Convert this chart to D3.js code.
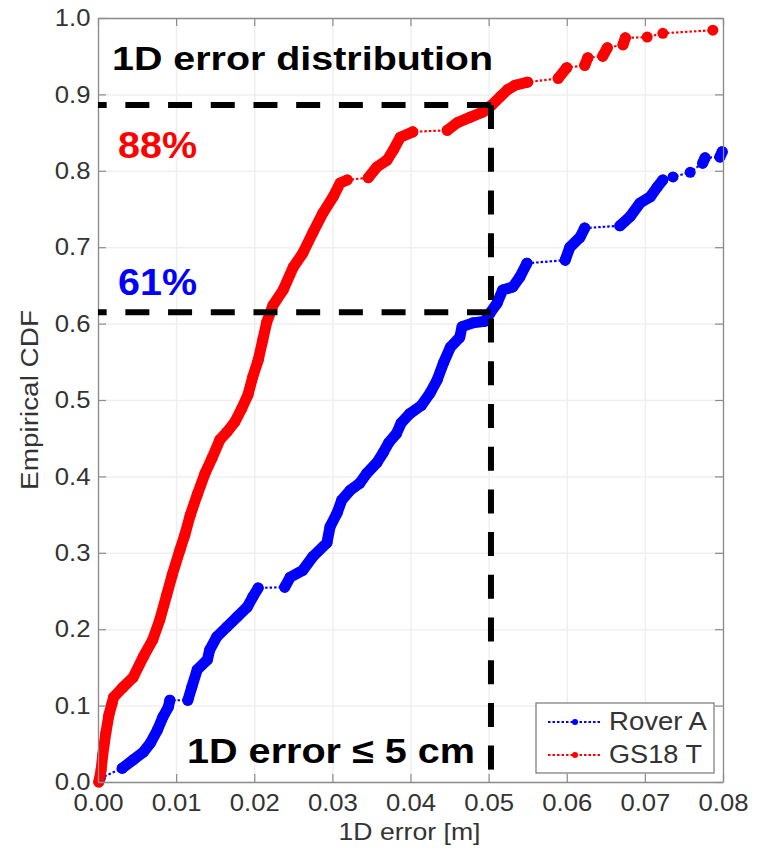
<!DOCTYPE html>
<html>
<head>
<meta charset="utf-8">
<script src="https://cdn.jsdelivr.net/npm/d3@7"></script>
<style>
  body { margin: 0; background: #fff; }
  svg { display: block; font-family: "Liberation Sans", Arial, sans-serif; }
</style>
</head>
<body>
<div id="chart"></div>
<script>
// tick values
const xTicks = [0, 0.01, 0.02, 0.03, 0.04, 0.05, 0.06, 0.07, 0.08];
const yTicks = [0, 0.1, 0.2, 0.3, 0.4, 0.5, 0.6, 0.7, 0.8, 0.9, 1.0];

const seriesNames = ["Rover A", "GS18 T"];
const seriesColors = ["#0000ff", "#ff0000"];

// empirical CDF, split where the markers are apart
// (between runs only the dotted line shows)
const roverRuns = [
  [[0.0003, 0.005]],
  [[0.0031, 0.018], [0.0045, 0.029], [0.0058, 0.039], [0.0067, 0.051], [0.0076, 0.068],
   [0.0083, 0.085], [0.0090, 0.098], [0.0092, 0.107]],
  [[0.0115, 0.107], [0.0120, 0.124], [0.0127, 0.147], [0.0140, 0.160], [0.0143, 0.173],
   [0.0152, 0.190], [0.0165, 0.203], [0.0178, 0.216], [0.0191, 0.229], [0.0198, 0.242],
   [0.0205, 0.254]],
  [[0.0239, 0.255], [0.0246, 0.268], [0.0262, 0.277], [0.0275, 0.295], [0.0293, 0.313],
   [0.0297, 0.334], [0.0306, 0.352], [0.0312, 0.369], [0.0323, 0.382], [0.0335, 0.391],
   [0.0344, 0.404], [0.0357, 0.418], [0.0365, 0.431], [0.0372, 0.444], [0.0382, 0.456],
   [0.0388, 0.470], [0.0399, 0.482], [0.0414, 0.493], [0.0425, 0.509], [0.0434, 0.526],
   [0.0442, 0.548], [0.0451, 0.569], [0.0463, 0.582], [0.0466, 0.596], [0.0480, 0.601],
   [0.0495, 0.603], [0.0502, 0.614], [0.0511, 0.627], [0.0518, 0.644], [0.0531, 0.648],
   [0.0540, 0.661], [0.0549, 0.679]],
  [[0.0598, 0.683], [0.0604, 0.700], [0.0617, 0.713], [0.0623, 0.725]],
  [[0.0668, 0.728], [0.0681, 0.740], [0.0694, 0.758], [0.0707, 0.766], [0.0716, 0.779],
   [0.0723, 0.788]],
  [[0.0736, 0.792]],
  [[0.0758, 0.798]],
  [[0.0774, 0.810], [0.0777, 0.817]],
  [[0.0796, 0.818], [0.0799, 0.825]]
];

const gs18Runs = [
  [[0.0001, 0.000], [0.0004, 0.016], [0.0006, 0.035], [0.0010, 0.064], [0.0014, 0.088],
   [0.0018, 0.103], [0.0020, 0.111], [0.0032, 0.124], [0.0045, 0.137], [0.0058, 0.164],
   [0.0070, 0.186], [0.0079, 0.212], [0.0088, 0.245], [0.0095, 0.271], [0.0105, 0.304],
   [0.0111, 0.323], [0.0118, 0.349], [0.0127, 0.376], [0.0137, 0.404], [0.0146, 0.424],
   [0.0156, 0.448], [0.0165, 0.458], [0.0175, 0.471], [0.0184, 0.489], [0.0192, 0.507],
   [0.0198, 0.530], [0.0205, 0.552], [0.0211, 0.579], [0.0216, 0.602], [0.0224, 0.624],
   [0.0237, 0.644], [0.0250, 0.674], [0.0262, 0.692], [0.0275, 0.719], [0.0288, 0.745],
   [0.0301, 0.766], [0.0310, 0.784], [0.0319, 0.788]],
  [[0.0346, 0.791], [0.0357, 0.805], [0.0370, 0.814], [0.0378, 0.827], [0.0387, 0.844],
   [0.0403, 0.851]],
  [[0.0447, 0.853], [0.0460, 0.863], [0.0476, 0.870], [0.0493, 0.877], [0.0504, 0.886],
   [0.0515, 0.897], [0.0524, 0.906], [0.0534, 0.912], [0.0550, 0.916]],
  [[0.0589, 0.921], [0.0600, 0.935]],
  [[0.0623, 0.938], [0.0627, 0.948]],
  [[0.0646, 0.950], [0.0652, 0.961]],
  [[0.0672, 0.965], [0.0675, 0.974]],
  [[0.0703, 0.975]],
  [[0.0723, 0.980]],
  [[0.0787, 0.984]]
];

// annotation: 5 cm threshold and the two levels it cuts
const markX = 0.0503;
const markLevels = [0.886, 0.615];
const levelLabels = ["88%", "61%"];
const titleText = "1D error distribution";
const thresholdText = "1D error \u2264 5 cm";

const width = 761, height = 849;
const margin = { top: 18, right: 38, bottom: 67, left: 98 };

const x = d3.scaleLinear().domain([0, 0.08]).range([margin.left, width - margin.right]);
const y = d3.scaleLinear().domain([0, 1]).range([height - margin.bottom, margin.top]);

const svg = d3.select("#chart").append("svg")
    .attr("width", width)
    .attr("height", height)
    .attr("viewBox", [0, 0, width, height]);

const x0 = x.range()[0], x1 = x.range()[1];
const yb = y.range()[0], yt = y.range()[1];

// grid
svg.append("g")
    .attr("transform", `translate(0,${yb})`)
    .call(d3.axisBottom(x).tickValues(xTicks).tickSize(-(yb - yt)).tickFormat(""))
    .call(g => g.select(".domain").remove())
    .call(g => g.selectAll("line").attr("stroke", "#efefef").attr("stroke-width", 1.5));
svg.append("g")
    .attr("transform", `translate(${x0},0)`)
    .call(d3.axisLeft(y).tickValues(yTicks).tickSize(-(x1 - x0)).tickFormat(""))
    .call(g => g.select(".domain").remove())
    .call(g => g.selectAll("line").attr("stroke", "#efefef").attr("stroke-width", 1.5));

// series
const line = d3.line().x(d => x(d[0])).y(d => y(d[1]));

function drawSeries(runs, color) {
    const g = svg.append("g");
    // dotted line through every point
    g.append("path")
        .attr("d", line(runs.flat()))
        .attr("fill", "none")
        .attr("stroke", color)
        .attr("stroke-width", 2.2)
        .attr("stroke-dasharray", "2.5,2");
    // dense markers merge into a band
    g.selectAll("path.run")
        .data(runs.filter(r => r.length > 1))
        .join("path")
        .attr("class", "run")
        .attr("d", line)
        .attr("fill", "none")
        .attr("stroke", color)
        .attr("stroke-width", 11)
        .attr("stroke-linejoin", "round")
        .attr("stroke-linecap", "round");
    g.selectAll("circle")
        .data(runs.flat())
        .join("circle")
        .attr("cx", d => x(d[0]))
        .attr("cy", d => y(d[1]))
        .attr("r", 5.5)
        .attr("fill", color);
}

drawSeries(roverRuns, seriesColors[0]);
drawSeries(gs18Runs, seriesColors[1]);

// axes frame
const axisColor = "#8c8c8c";
function styleAxis(g) {
    g.select(".domain").attr("stroke", axisColor).attr("stroke-width", 1.3);
    g.selectAll(".tick line").attr("stroke", axisColor).attr("stroke-width", 1.2);
    g.selectAll(".tick text")
        .attr("fill", "#333")
        .attr("font-size", 24)
        .attr("transform", "scale(1.07,1)");
}

svg.append("g")
    .attr("transform", `translate(0,${yb})`)
    .call(d3.axisBottom(x).tickValues(xTicks).tickFormat(d3.format(".2f"))
        .tickSizeInner(-8).tickSizeOuter(0).tickPadding(12))
    .call(styleAxis);
svg.append("g")
    .attr("transform", `translate(0,${yt})`)
    .call(d3.axisTop(x).tickValues(xTicks).tickFormat("").tickSizeInner(-8).tickSizeOuter(0))
    .call(styleAxis);
svg.append("g")
    .attr("transform", `translate(${x0},0)`)
    .call(d3.axisLeft(y).tickValues(yTicks).tickFormat(d3.format(".1f"))
        .tickSizeInner(-8).tickSizeOuter(0).tickPadding(7))
    .call(styleAxis);
svg.append("g")
    .attr("transform", `translate(${x1},0)`)
    .call(d3.axisRight(y).tickValues(yTicks).tickFormat("").tickSizeInner(-8).tickSizeOuter(0))
    .call(styleAxis);

// axis titles
svg.append("text")
    .attr("transform", `translate(38,${(yt + yb) / 2}) rotate(-90)`)
    .attr("text-anchor", "middle")
    .attr("font-size", 23)
    .attr("fill", "#333")
    .attr("textLength", 180)
    .attr("lengthAdjust", "spacingAndGlyphs")
    .text("Empirical CDF");
svg.append("text")
    .attr("x", (x0 + x1) / 2 - 1)
    .attr("y", 840)
    .attr("text-anchor", "middle")
    .attr("font-size", 24)
    .attr("fill", "#333")
    .attr("textLength", 142)
    .attr("lengthAdjust", "spacingAndGlyphs")
    .text("1D error [m]");

// dashed guide lines, dashes start at the corner
const dash = "24,18.7";
const guides = svg.append("g")
    .attr("fill", "none")
    .attr("stroke", "#000")
    .attr("stroke-width", 6)
    .attr("stroke-dasharray", dash);
markLevels.forEach(v => {
    guides.append("path").attr("d", d3.line()([[x(markX), y(v)], [x0, y(v)]]));
});
guides.append("path").attr("d", d3.line()([[x(markX), y(markLevels[0])], [x(markX), yb]]));

// annotations
function bigText(str, px, py, color, size, len) {
    svg.append("text")
        .attr("x", px)
        .attr("y", py)
        .attr("font-size", size)
        .attr("font-weight", "bold")
        .attr("fill", color)
        .attr("textLength", len)
        .attr("lengthAdjust", "spacingAndGlyphs")
        .text(str);
}
bigText(titleText, 112, 70, "#000", 34, 381);
bigText(levelLabels[0], 118, 158, seriesColors[1], 37, 79);
bigText(levelLabels[1], 118, 295, seriesColors[0], 37, 79);
bigText(thresholdText, 187, 763, "#000", 35, 288);

// legend
const legend = svg.append("g");
legend.append("rect")
    .attr("x", 536).attr("y", 703)
    .attr("width", 178).attr("height", 70)
    .attr("fill", "#fff")
    .attr("stroke", "#777")
    .attr("stroke-width", 1.2);
const entries = legend.selectAll("g")
    .data(seriesNames)
    .join("g")
    .attr("transform", (d, i) => `translate(0,${722 + i * 33})`);
entries.append("line")
    .attr("x1", 548).attr("x2", 602)
    .attr("stroke", (d, i) => seriesColors[i])
    .attr("stroke-width", 2.2)
    .attr("stroke-dasharray", "2.5,2");
entries.append("circle")
    .attr("cx", 575).attr("r", 3)
    .attr("fill", (d, i) => seriesColors[i]);
entries.append("text")
    .attr("x", 609).attr("y", 8)
    .attr("font-size", 25)
    .attr("fill", "#333")
    .attr("textLength", (d, i) => i === 0 ? 98 : 93)
    .attr("lengthAdjust", "spacingAndGlyphs")
    .text(d => d);
</script>
</body>
</html>
